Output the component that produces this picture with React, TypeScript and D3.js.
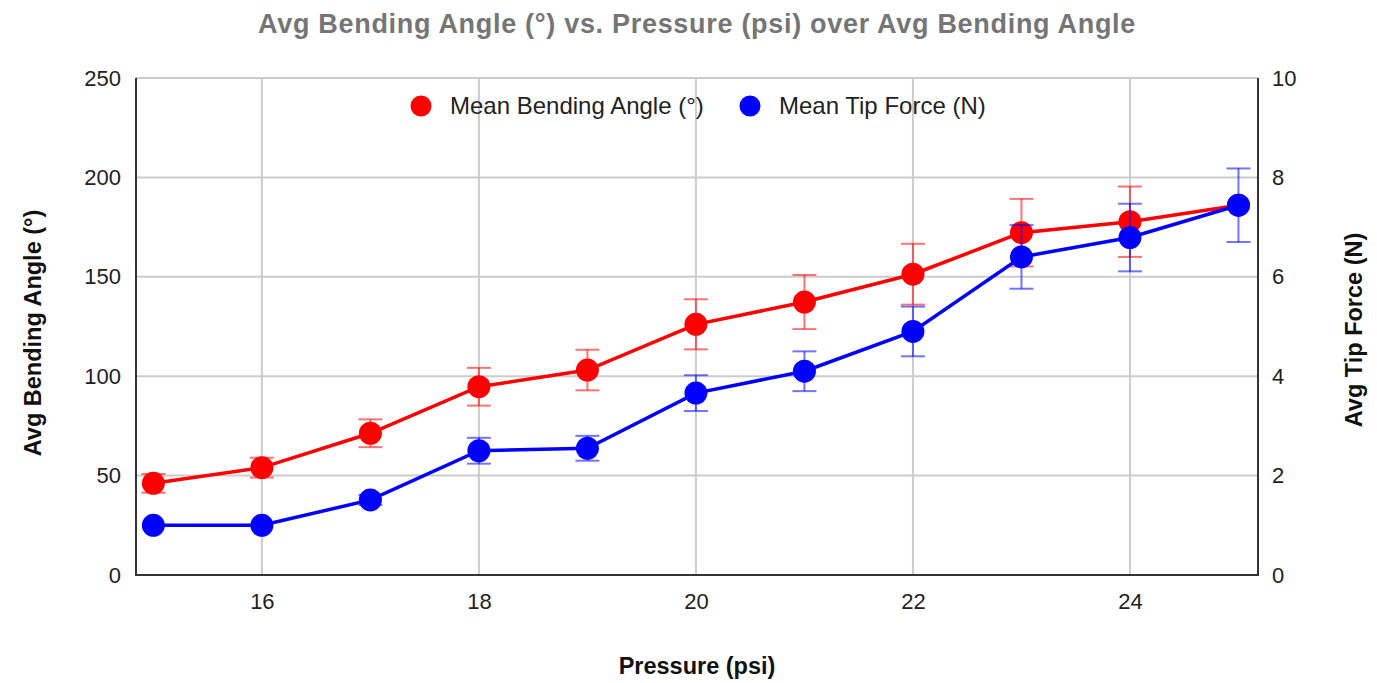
import { useEffect, useRef } from "react";
import {
  select,
  scaleLinear,
  axisBottom,
  axisLeft,
  axisRight,
  line,
} from "d3";

////
// data
const pressure = [15, 16, 17, 18, 19, 20, 21, 22, 23, 24, 25];
const bendAngle = [46.1, 54, 71.3, 94.7, 103.1, 126.1, 137.3, 151.3, 172.2, 177.7, 186];
const bendErr = [4.7, 5, 7, 9.5, 10.2, 12.6, 13.6, 15.3, 17, 17.7, 0];
const tipForce = [1.0, 1.0, 1.51, 2.5, 2.55, 3.66, 4.1, 4.9, 6.4, 6.79, 7.44];
const tipErr = [0, 0, 0.1, 0.26, 0.25, 0.36, 0.4, 0.5, 0.64, 0.68, 0.74];
const xTicks = [16, 18, 20, 22, 24];
const leftTicks = [0, 50, 100, 150, 200, 250];
const rightTicks = [0, 2, 4, 6, 8, 10];

const OPTIONS = {
  width: 1377,
  height: 683,
  left: 136,
  right: 1258,
  top: 78,
  bottom: 575,
  font: "Liberation Sans, Arial, sans-serif",
  red: "#ff0000",
  blue: "#0000ff",
  grid: "#cccccc",
  //
  _tickSize: 22,
  _labelSize: 23.5,
  _dotRadius: 11.5,
  _capHalf: 12,
};

const App = () => {
  const root = useRef<SVGSVGElement | null>(null);

  useEffect(() => {
    document.body.style.margin = "0";
    const { left, right, top, bottom, font, red, blue, grid, _tickSize, _labelSize, _dotRadius, _capHalf } =
      OPTIONS;
    const svg = select(root.current);
    svg.selectAll("*").remove();
    //
    const x = scaleLinear().domain([14.84, 25.18]).range([left, right]);
    const yL = scaleLinear().domain([0, 250]).range([bottom, top]);
    const yR = scaleLinear().domain([0, 10]).range([bottom, top]);
    //
    // grid
    const g = svg.append("g");
    g.selectAll("line.h")
      .data(leftTicks.slice(1))
      .join("line")
      .attr("x1", left)
      .attr("x2", right)
      .attr("y1", (d) => yL(d))
      .attr("y2", (d) => yL(d))
      .attr("stroke", grid)
      .attr("stroke-width", 2);
    g.selectAll("line.v")
      .data(xTicks)
      .join("line")
      .attr("x1", (d) => x(d))
      .attr("x2", (d) => x(d))
      .attr("y1", top)
      .attr("y2", bottom)
      .attr("stroke", grid)
      .attr("stroke-width", 2);
    //
    // axes
    const styleAxis = (sel: any) => {
      sel.select(".domain").remove();
      sel.selectAll(".tick line").remove();
      sel
        .selectAll("text")
        .attr("font-family", font)
        .attr("font-size", _tickSize)
        .attr("fill", "#222");
    };
    svg
      .append("g")
      .attr("transform", `translate(0,${bottom})`)
      .call(axisBottom(x).tickValues(xTicks).tickSize(0).tickPadding(18))
      .call(styleAxis);
    svg
      .append("g")
      .attr("transform", `translate(${left},0)`)
      .call(axisLeft(yL).tickValues(leftTicks).tickSize(0).tickPadding(15))
      .call(styleAxis);
    svg
      .append("g")
      .attr("transform", `translate(${right},0)`)
      .call(axisRight(yR).tickValues(rightTicks).tickSize(0).tickPadding(14))
      .call(styleAxis);
    //
    // frame lines
    svg.append("line").attr("x1", left).attr("x2", left).attr("y1", top).attr("y2", bottom + 1)
      .attr("stroke", "#333").attr("stroke-width", 2);
    svg.append("line").attr("x1", right).attr("x2", right).attr("y1", top).attr("y2", bottom + 1)
      .attr("stroke", "#333").attr("stroke-width", 2);
    svg.append("line").attr("x1", left).attr("x2", right).attr("y1", bottom).attr("y2", bottom)
      .attr("stroke", "#333").attr("stroke-width", 2);
    //
    // series
    const series = [
      { vals: bendAngle, errs: bendErr, y: yL, color: red },
      { vals: tipForce, errs: tipErr, y: yR, color: blue },
    ];
    series.forEach(({ vals, errs, y, color }) => {
      const pts = pressure.map((p, i) => ({ p, v: vals[i], e: errs[i] }));
      const eb = svg.append("g").attr("stroke", color).attr("stroke-opacity", 0.55).attr("stroke-width", 2);
      pts
        .filter((d) => d.e > 0)
        .forEach((d) => {
          const cx = x(d.p);
          const y1 = y(d.v + d.e);
          const y0 = y(d.v - d.e);
          eb.append("line").attr("x1", cx).attr("x2", cx).attr("y1", y1).attr("y2", y0);
          eb.append("line").attr("x1", cx - _capHalf).attr("x2", cx + _capHalf).attr("y1", y1).attr("y2", y1);
          eb.append("line").attr("x1", cx - _capHalf).attr("x2", cx + _capHalf).attr("y1", y0).attr("y2", y0);
        });
      svg
        .append("path")
        .datum(pts)
        .attr("fill", "none")
        .attr("stroke", color)
        .attr("stroke-width", 3.5)
        .attr("d", line<any>().x((d) => x(d.p)).y((d) => y(d.v)));
      svg
        .append("g")
        .selectAll("circle")
        .data(pts)
        .join("circle")
        .attr("cx", (d) => x(d.p))
        .attr("cy", (d) => y(d.v))
        .attr("r", _dotRadius)
        .attr("fill", color);
    });
    //
    // legend
    const legend = [
      { label: "Mean Bending Angle (°)", color: red, cx: 421 },
      { label: "Mean Tip Force (N)", color: blue, cx: 750 },
    ];
    legend.forEach((l) => {
      svg.append("circle").attr("cx", l.cx).attr("cy", 106).attr("r", 10.5).attr("fill", l.color);
      svg
        .append("text")
        .attr("x", l.cx + 29)
        .attr("y", 106)
        .attr("dy", "0.35em")
        .attr("font-family", font)
        .attr("font-size", 24)
        .attr("fill", "#222")
        .text(l.label);
    });
    //
    // titles
    svg
      .append("text")
      .attr("x", 697)
      .attr("y", 33)
      .attr("text-anchor", "middle")
      .attr("font-family", font)
      .attr("font-size", 27)
      .attr("letter-spacing", 0.7)
      .attr("font-weight", "bold")
      .attr("fill", "#757575")
      .text("Avg Bending Angle (°) vs. Pressure (psi) over Avg Bending Angle");
    svg
      .append("text")
      .attr("x", 697)
      .attr("y", 674)
      .attr("text-anchor", "middle")
      .attr("font-family", font)
      .attr("font-size", _labelSize)
      .attr("font-weight", "bold")
      .attr("fill", "#111")
      .text("Pressure (psi)");
    svg
      .append("text")
      .attr("transform", `translate(41,333) rotate(-90)`)
      .attr("text-anchor", "middle")
      .attr("font-family", font)
      .attr("font-size", _labelSize)
      .attr("font-weight", "bold")
      .attr("fill", "#111")
      .text("Avg Bending Angle (°)");
    svg
      .append("text")
      .attr("transform", `translate(1362,330) rotate(-90)`)
      .attr("text-anchor", "middle")
      .attr("font-family", font)
      .attr("font-size", _labelSize)
      .attr("font-weight", "bold")
      .attr("fill", "#111")
      .text("Avg Tip Force (N)");
  }, []);

  return (
    <svg
      ref={root}
      width={OPTIONS.width}
      height={OPTIONS.height}
      style={{ display: "block", background: "#fff" }}
    />
  );
};

export default App;
